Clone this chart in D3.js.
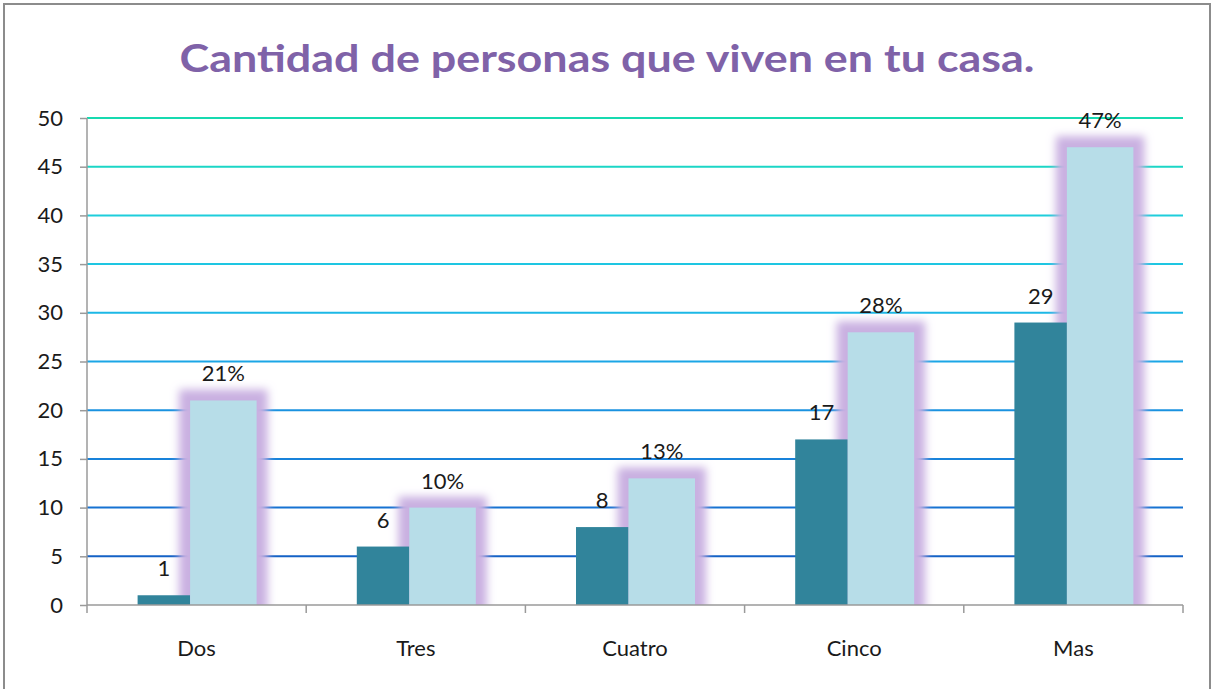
<!DOCTYPE html>
<html><head><meta charset="utf-8">
<script src="https://cdn.jsdelivr.net/npm/d3@7"></script>
<style>body{margin:0;background:#fff}svg{display:block}</style>
</head><body>
<svg id="c" width="1214" height="689"></svg>
<script>
const title = "Cantidad de personas que viven en tu casa.";
const categories = ["Dos", "Tres", "Cuatro", "Cinco", "Mas"];
const counts = [1, 6, 8, 17, 29];
const percents = [21, 10, 13, 28, 47];
const yTicks = [0, 5, 10, 15, 20, 25, 30, 35, 40, 45, 50];
const gridColors = ["#9a9a9a", "#1462c6", "#1672d2", "#1882da", "#1a92e0", "#1ba6e6", "#1cb8e6", "#1ec6e2", "#1ecedb", "#1bd6c6", "#16dab0"];

const svg = d3.select("#c");
const font = "Lato, 'Open Sans', sans-serif";
const fs = 22;

svg.append("rect").attr("x", 4).attr("y", 4).attr("width", 1206).attr("height", 700)
  .attr("fill", "#fff").attr("stroke", "#8c8c8c").attr("stroke-width", 2);

const x = d3.scaleBand().domain(categories).range([87, 1183]).padding(0);
const y = d3.scaleLinear().domain([0, 50]).range([605, 118]);

const defs = svg.append("defs");
const f = defs.append("filter").attr("id", "glow")
  .attr("x", "-80%").attr("y", "-60%").attr("width", "260%").attr("height", "220%");
f.append("feMorphology").attr("in", "SourceAlpha").attr("operator", "dilate").attr("radius", 11).attr("result", "d");
f.append("feGaussianBlur").attr("in", "d").attr("stdDeviation", 4.5).attr("result", "b");
f.append("feFlood").attr("flood-color", "#c9b0e1").attr("result", "fc");
f.append("feComposite").attr("in", "fc").attr("in2", "b").attr("operator", "in");
defs.append("clipPath").attr("id", "plotclip").append("rect")
  .attr("x", 0).attr("y", 0).attr("width", 1214).attr("height", y(0));

const cx = c => x(c) + x.bandwidth() / 2;
const darkL = -59, split = -6.5, lightR = 60;

// gridlines
svg.append("g").selectAll("line").data(yTicks.filter(t => t > 0)).join("line")
  .attr("x1", 87).attr("x2", 1183)
  .attr("y1", d => y(d)).attr("y2", d => y(d))
  .attr("stroke", d => gridColors[yTicks.indexOf(d)]).attr("stroke-width", 2);

// glow behind light bars
svg.append("g").attr("clip-path", "url(#plotclip)").selectAll("rect").data(categories).join("rect")
  .attr("x", d => cx(d) + split).attr("width", lightR - split)
  .attr("y", (d, i) => y(percents[i])).attr("height", (d, i) => y(0) - y(percents[i]))
  .attr("fill", "#000").attr("filter", "url(#glow)");

// dark bars
svg.append("g").selectAll("rect").data(categories).join("rect")
  .attr("x", d => cx(d) + darkL).attr("width", split - darkL)
  .attr("y", (d, i) => y(counts[i])).attr("height", (d, i) => y(0) - y(counts[i]))
  .attr("fill", "#31849b");

// light bars
svg.append("g").selectAll("rect").data(categories).join("rect")
  .attr("x", d => cx(d) + split).attr("width", lightR - split)
  .attr("y", (d, i) => y(percents[i])).attr("height", (d, i) => y(0) - y(percents[i]))
  .attr("fill", "#b7dde8");

// y axis
const yAxis = d3.axisLeft(y).tickValues(yTicks).tickSize(7).tickPadding(17);
const ya = svg.append("g").attr("transform", "translate(87,0)").call(yAxis);
ya.select(".domain").attr("stroke", "#9a9a9a").attr("stroke-width", 1.5).attr("d", "M0,605V118");
ya.selectAll(".tick line").attr("stroke", "#9a9a9a").attr("stroke-width", 1.5);
ya.selectAll("text").attr("font-family", font).attr("font-size", fs).attr("fill", "#1a1a1a");

// x axis
const xa = svg.append("g").attr("transform", "translate(0,605)");
xa.append("line").attr("x1", 87).attr("x2", 1183).attr("y1", 0).attr("y2", 0).attr("stroke", "#9a9a9a").attr("stroke-width", 1.5);
xa.selectAll(".bt").data(categories.concat(["end"])).join("line").attr("class", "bt")
  .attr("x1", (d, i) => i < categories.length ? x(d) : x.range()[1])
  .attr("x2", (d, i) => i < categories.length ? x(d) : x.range()[1])
  .attr("y1", 0).attr("y2", 8).attr("stroke", "#9a9a9a").attr("stroke-width", 1.5);
xa.selectAll("text").data(categories).join("text")
  .attr("x", d => cx(d)).attr("y", 51).attr("text-anchor", "middle")
  .attr("font-family", font).attr("font-size", fs).attr("fill", "#1a1a1a").text(d => d);

// value labels
svg.append("g").selectAll("text").data(categories).join("text")
  .attr("x", d => cx(d) + (darkL + split) / 2)
  .attr("y", (d, i) => y(counts[i]) - 19).attr("text-anchor", "middle")
  .attr("font-family", font).attr("font-size", fs).attr("fill", "#1a1a1a")
  .text((d, i) => counts[i]);
svg.append("g").selectAll("text").data(categories).join("text")
  .attr("x", d => cx(d) + (split + lightR) / 2)
  .attr("y", (d, i) => y(percents[i]) - 19).attr("text-anchor", "middle")
  .attr("font-family", font).attr("font-size", fs).attr("fill", "#1a1a1a")
  .text((d, i) => percents[i] + "%");

// title
svg.append("text").attr("x", 607).attr("y", 72).attr("text-anchor", "middle")
  .attr("font-family", font).attr("font-weight", "bold").attr("font-size", 38)
  .attr("fill", "#7f62a8").attr("textLength", 855).attr("lengthAdjust", "spacingAndGlyphs")
  .text(title);
</script>
</body></html>
